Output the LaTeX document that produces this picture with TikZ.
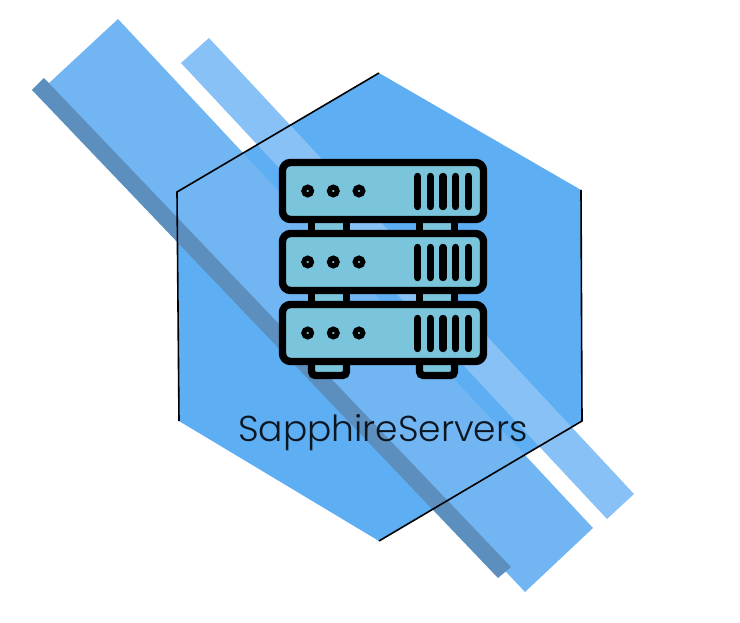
\documentclass[tikz,border=0pt]{standalone}
\usepackage{fontspec}
\setmainfont{Poppins Light}
\definecolor{hexblue}{HTML}{5DAEF3}
\definecolor{bigbar}{HTML}{71B6F3}
\definecolor{lightbar}{HTML}{88C1F6}
\definecolor{darkbar}{HTML}{5C8FBE}
\definecolor{rackfill}{HTML}{7AC5DC}
\definecolor{brandink}{HTML}{0C1620}
\tikzset{
  rack/.style={draw=black, line width=7.4pt, fill=rackfill, rounded corners=8pt},
  slot/.style={black, line width=7.4pt, line cap=round},
  led/.style={draw=black, line width=5pt, fill=rackfill},
  hexline/.style={black, line width=1.6pt},
}
\begin{document}
\begin{tikzpicture}[x=1pt,y=-1pt]
  \useasboundingbox (0,0) rectangle (740,623);
  % hexagon body
  \fill[hexblue] (379,73) -- (581,190) -- (582,421) -- (379,541) -- (179,421) -- (177,192) -- cycle;
  % diagonal bars behind the server
  \fill[lightbar] (209,38) -- (634,494) -- (607,519) -- (181,63) -- cycle;
  \fill[bigbar] (118,19) -- (593,528) -- (525,592) -- (47,85) -- cycle;
  \fill[darkbar] (44,78) -- (511,567) -- (498,578) -- (32,90) -- cycle;
  % black edges of the hexagon
  \draw[hexline] (179,421) -- (177,192) -- (379,73);
  \draw[hexline] (581,190) -- (582,421) -- (379,541);
  % feet below the bottom rack
  \foreach \fx in {311.5,419.5} {
    \draw[rack, rounded corners=4pt] (\fx,360) -- (\fx,375.5) -- ++(35,0) -- ++(0,-15.5);
  }
  % racks with their links, lights and slots
  \foreach \ry in {0,71,142} {
    \ifnum\ry<142
      \draw[black, line width=7.4pt, fill=rackfill] (311.5,215+\ry) rectangle (346.5,235+\ry);
      \draw[black, line width=7.4pt, fill=rackfill] (419.5,215+\ry) rectangle (454.5,235+\ry);
    \fi
    \draw[rack] (282.5,162.5+\ry) rectangle (483.5,219.5+\ry);
    \foreach \lx in {307.7,333.3,359} {
      \draw[led] (\lx,191+\ry) circle (3.9);
    }
    \foreach \sx in {417.7,430.3,443,455.7,468.3} {
      \draw[slot] (\sx,176.5+\ry) -- (\sx,206.5+\ry);
    }
  }
  % name below the server
  \node[text=brandink, font=\fontsize{36}{36}\selectfont, inner sep=0pt, anchor=base] (brand) at (383,441) {SapphireServers};
\end{tikzpicture}
\end{document}
